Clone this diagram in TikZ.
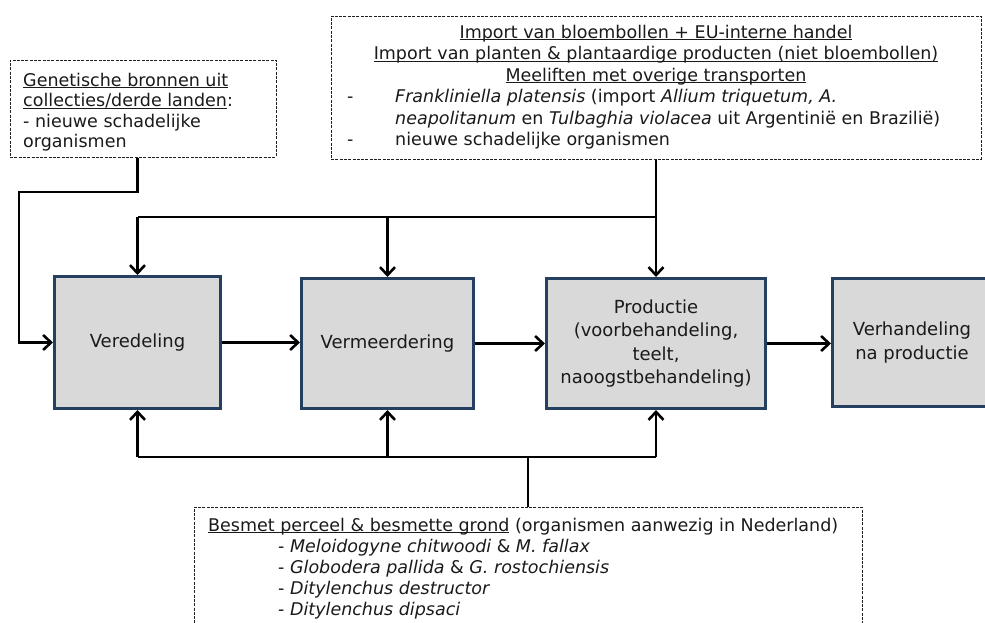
\documentclass[tikz,border=0pt]{standalone}
\usepackage{fontspec}
\setmainfont{DejaVu Sans}
\usetikzlibrary{arrows.meta}
\definecolor{boxblue}{HTML}{243F60}
\definecolor{boxfill}{HTML}{D9D9D9}
\definecolor{dashgray}{HTML}{202020}
\definecolor{inkgray}{HTML}{1A1A1A}
\newcommand\ulx[1]{\setbox0\hbox{#1}\rlap{\rule[-2.4pt]{\wd0}{1pt}}\box0\relax}
\begin{document}
\begin{tikzpicture}[x=1pt,y=-1pt,
  stage/.style={draw=boxblue, line width=3pt, fill=boxfill, inner sep=0pt, align=center,
    text=inkgray, font=\fontsize{18}{23.5}\selectfont},
  srcbox/.style={draw=dashgray, line width=1pt, dash pattern=on 3pt off 1.3pt, inner sep=0pt},
  txt/.style={inner sep=0pt, text=inkgray, font=\fontsize{17.5}{21}\selectfont},
  conn/.style={line width=2.6pt, -{Straight Barb[length=8pt,width=15pt]}},
  plainline/.style={line width=2.6pt}]
\clip (0,0) rectangle (985,622);
\fill[white] (0,0) rectangle (985,622);

% process stages
\node[stage, minimum width=166pt, minimum height=132pt] (ver) at (137.5,342.5) {Veredeling};
\node[stage, minimum width=172pt, minimum height=130pt] (verm) at (387.5,343.5) {Vermeerdering};
\node[stage, minimum width=219pt, minimum height=130pt] (prod) at (656,343.5) {Productie\\(voorbehandeling,\\teelt,\\naoogstbehandeling)};
\node[stage, minimum width=159pt, minimum height=128pt] (verh) at (912,342.5) {Verhandeling\\na productie};

% source boxes
\node[srcbox, minimum width=650pt, minimum height=143pt] (imp) at (656,87.5) {};
\node[srcbox, minimum width=266pt, minimum height=97pt] (gen) at (143,108.5) {};
\node[srcbox, minimum width=668pt, minimum height=133pt] (bes) at (528,573.5) {};

% texts top box
\node[txt, anchor=base] (imp1) at (656,38) {\ulx{Import van bloembollen + EU-interne handel}};
\node[txt, anchor=base] (imp2) at (656,59.5) {\ulx{Import van planten \& plantaardige producten (niet bloembollen)}};
\node[txt, anchor=base] (imp3) at (656,81) {\ulx{Meeliften met overige transporten}};
\node[txt, anchor=base west] (imp4d) at (347,102.5) {-};
\node[txt, anchor=base west] (imp4) at (395,102.5) {\textit{Frankliniella platensis} (import \textit{Allium triquetum, A.}};
\node[txt, anchor=base west] (imp5) at (395,124) {\textit{neapolitanum} en \textit{Tulbaghia violacea} uit Argentinië en Brazilië)};
\node[txt, anchor=base west] (imp6d) at (347,145.5) {-};
\node[txt, anchor=base west] (imp6) at (395,145.5) {nieuwe schadelijke organismen};

% texts genetic box
\node[txt, anchor=base west] (gen1) at (23,86) {\ulx{Genetische bronnen uit}};
\node[txt, anchor=base west] (gen2) at (23,106.5) {\ulx{collecties/derde landen}:};
\node[txt, anchor=base west] (gen3) at (23,127) {- nieuwe schadelijke};
\node[txt, anchor=base west] (gen4) at (23,147.5) {organismen};

% texts bottom box
\node[txt, anchor=base west] (bes1) at (208,531) {\ulx{Besmet perceel \& besmette grond} (organismen aanwezig in Nederland)};
\node[txt, anchor=base west] (bes2) at (278,552) {- \textit{Meloidogyne chitwoodi} \& \textit{M. fallax}};
\node[txt, anchor=base west] (bes3) at (278,573) {- \textit{Globodera pallida} \& \textit{G. rostochiensis}};
\node[txt, anchor=base west] (bes4) at (278,594) {- \textit{Ditylenchus destructor}};
\node[txt, anchor=base west] (bes5) at (278,615) {- \textit{Ditylenchus dipsaci}};

% junction coordinates
\coordinate (jt) at (656,217);
\coordinate (jb) at (656,457);
\coordinate (g1) at (19,192);

% connectors between stages
\draw[conn] (ver.east) -- (ver.east -| verm.west);
\draw[conn] (verm.east) -- (verm.east -| prod.west);
\draw[conn] (prod.east) -- (prod.east -| verh.west);

% from import box
\draw[conn] (imp.south) -- (prod.north);
\draw[plainline] (jt) -- (ver.north |- jt);
\draw[conn] (ver.north |- jt) -- (ver.north);
\draw[conn] (verm.north |- jt) -- (verm.north);

% from genetic box
\draw[conn] (gen.south -| ver.north) |- (g1) |- (ver.west);

% from soil box
\draw[plainline] (bes.north) -- (bes.north |- jb);
\draw[plainline] (ver.south |- jb) -- (prod.south |- jb);
\draw[conn] (ver.south |- jb) -- (ver.south);
\draw[conn] (verm.south |- jb) -- (verm.south);
\draw[conn] (jb) -- (prod.south);
\end{tikzpicture}
\end{document}
